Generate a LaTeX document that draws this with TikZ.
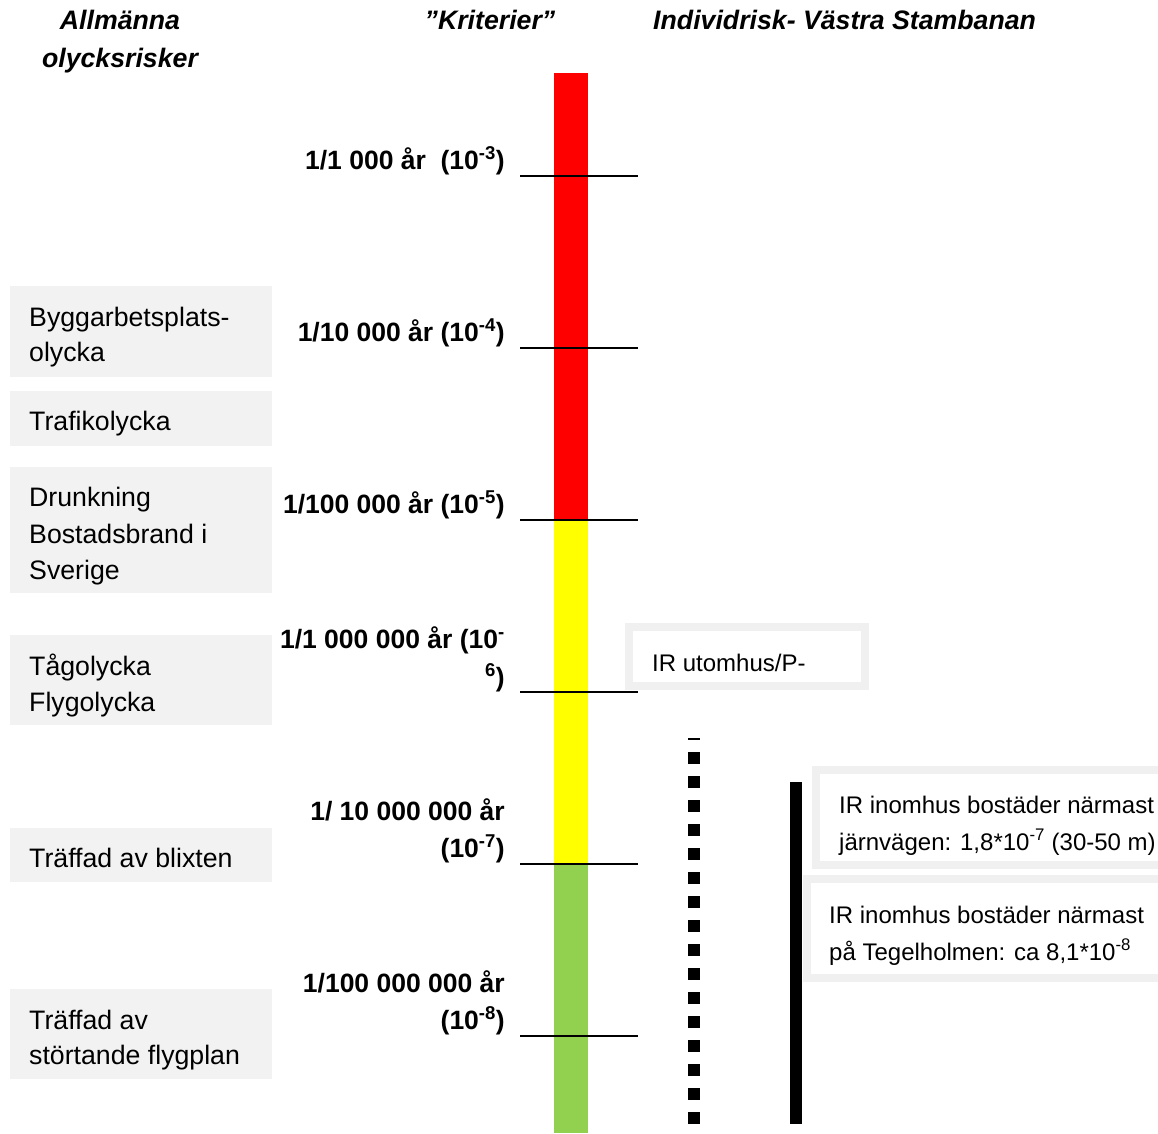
\documentclass[tikz,border=0pt]{standalone}
\usepackage{fontspec}
\setmainfont{Liberation Sans}
\definecolor{boxgray}{HTML}{F2F2F2}
\definecolor{framegray}{HTML}{F0F0F0}
\definecolor{riskred}{HTML}{FF0000}
\definecolor{riskyellow}{HTML}{FFFF00}
\definecolor{riskgreen}{HTML}{92D050}
\begin{document}
\begin{tikzpicture}[x=1pt,y=-1pt,
  heading/.style={inner sep=0pt, font=\bfseries\itshape\fontsize{26.7}{38}\selectfont},
  scalelabel/.style={inner sep=0pt, anchor=base east, font=\bfseries\fontsize{26.5}{37}\selectfont},
  risktext/.style={inner sep=0pt, anchor=base west, font=\fontsize{26.7}{36}\selectfont},
  irtext/.style={inner sep=0pt, anchor=base west, font=\fontsize{24}{37}\selectfont},
  riskbox/.style={fill=boxgray},
  irframe/.style={fill=white, draw=framegray, line width=8pt},
  tick/.style={line width=1.5pt},
]
\clip (0,0) rectangle (1158,1133);
\fill[white] (0,0) rectangle (1158,1133);

% column headings
\node[heading, anchor=base] (h1a) at (120,29) {Allmänna};
\node[heading, anchor=base] (h1b) at (120,67) {olycksrisker};
\node[heading, anchor=base] (h2) at (490,29) {”Kriterier”};
\node[heading, anchor=base west] (h3) at (653,29) {Individrisk- Västra Stambanan};

% risk scale bar
\fill[riskred] (554,73) rectangle (588,520);
\fill[riskyellow] (554,520) rectangle (588,864);
\fill[riskgreen] (554,864) rectangle (588,1133);
\foreach \ty in {176,348,520,692,864,1036}
  \draw[tick] (520,\ty) -- (638,\ty);

% scale labels
\node[scalelabel] (s1) at (505,169) {1/1 000 år\ \ (10\textsuperscript{-3})};
\node[scalelabel] (s2) at (505,341) {1/10 000 år (10\textsuperscript{-4})};
\node[scalelabel] (s3) at (505,513) {1/100 000 år (10\textsuperscript{-5})};
\node[scalelabel] (s4a) at (505,648) {1/1 000 000 år (10\textsuperscript{-}};
\node[scalelabel] (s4b) at (505,686) {\textsuperscript{6})};
\node[scalelabel] (s5a) at (505,820) {1/ 10 000 000 år};
\node[scalelabel] (s5b) at (505,857) {(10\textsuperscript{-7})};
\node[scalelabel] (s6a) at (505,992) {1/100 000 000 år};
\node[scalelabel] (s6b) at (505,1029) {(10\textsuperscript{-8})};

% general accident risks
\fill[riskbox] (10,286) rectangle (272,377);
\fill[riskbox] (10,391) rectangle (272,446);
\fill[riskbox] (10,467) rectangle (272,593);
\fill[riskbox] (10,635) rectangle (272,725);
\fill[riskbox] (10,828) rectangle (272,882);
\fill[riskbox] (10,989) rectangle (272,1079);
\node[risktext] (r1a) at (29,326) {Byggarbetsplats-};
\node[risktext] (r1b) at (29,361) {olycka};
\node[risktext] (r2) at (29,430) {Trafikolycka};
\node[risktext] (r3a) at (29,506) {Drunkning};
\node[risktext] (r3b) at (29,543) {Bostadsbrand i};
\node[risktext] (r3c) at (29,579) {Sverige};
\node[risktext] (r4a) at (29,675) {Tågolycka};
\node[risktext] (r4b) at (29,711) {Flygolycka};
\node[risktext] (r5) at (29,867) {Träffad av blixten};
\node[risktext] (r6a) at (29,1029) {Träffad av};
\node[risktext] (r6b) at (29,1064) {störtande flygplan};

% individual risk, Västra Stambanan
\draw[irframe] (629,627) rectangle (865,686);
\node[irtext] (ir1) at (652,671) {IR utomhus/P-};

\draw[line width=12pt, dash pattern=on 12pt off 12pt] (694,1124) -- (694,738);
\fill (790,782) rectangle (802,1124);

\draw[irframe] (816,770) rectangle (1175,865);
\node[irtext] (ir2a) at (839,813) {IR inomhus bostäder närmast};
\node[irtext] (ir2b) at (839,850) {järnvägen: 1,8*10\textsuperscript{-7} (30-50 m)};

\draw[irframe] (807,879) rectangle (1175,978);
\node[irtext] (ir3a) at (829,923) {IR inomhus bostäder närmast};
\node[irtext] (ir3b) at (829,960) {på Tegelholmen: ca 8,1*10\textsuperscript{-8}};
\end{tikzpicture}
\end{document}
